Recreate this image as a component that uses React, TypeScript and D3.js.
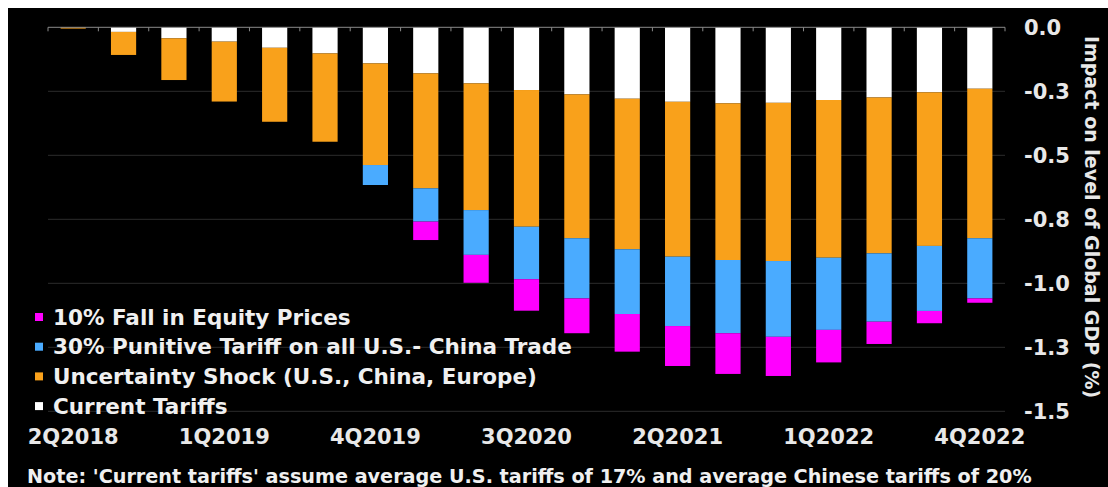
import React from "react";
import * as d3 from "d3";

const quarters = ["2Q2018","3Q2018","4Q2018","1Q2019","2Q2019","3Q2019","4Q2019","1Q2020","2Q2020","3Q2020","4Q2020","1Q2021","2Q2021","3Q2021","4Q2021","1Q2022","2Q2022","3Q2022","4Q2022"];
const tickQuarters = ["2Q2018","1Q2019","4Q2019","3Q2020","2Q2021","1Q2022","4Q2022"];
const currentTariffs = [0, -0.018, -0.043, -0.056, -0.080, -0.102, -0.141, -0.180, -0.219, -0.245, -0.262, -0.279, -0.291, -0.297, -0.295, -0.284, -0.274, -0.254, -0.240];
const uncertaintyShock = [-0.005, -0.090, -0.163, -0.234, -0.289, -0.345, -0.397, -0.449, -0.495, -0.534, -0.562, -0.588, -0.605, -0.612, -0.618, -0.616, -0.609, -0.600, -0.584];
const punitiveTariff = [0, 0, 0, 0, 0, 0, -0.078, -0.130, -0.175, -0.205, -0.235, -0.253, -0.271, -0.286, -0.296, -0.282, -0.267, -0.254, -0.235];
const equityFall = [0, 0, 0, 0, 0, 0, 0, -0.072, -0.109, -0.123, -0.136, -0.147, -0.156, -0.159, -0.153, -0.127, -0.087, -0.048, -0.017];
const yTicks = [0, -0.25, -0.5, -0.75, -1.0, -1.25, -1.5];
const yTickLabels = ["0.0", "-0.3", "-0.5", "-0.8", "-1.0", "-1.3", "-1.5"];

const seriesDefs = [
  { key: "current", label: "Current Tariffs", values: currentTariffs, color: "#ffffff" },
  { key: "uncert", label: "Uncertainty Shock (U.S., China, Europe)", values: uncertaintyShock, color: "#f9a11b" },
  { key: "punitive", label: "30% Punitive Tariff on all U.S.- China Trade", values: punitiveTariff, color: "#4aabff" },
  { key: "equity", label: "10% Fall in Equity Prices", values: equityFall, color: "#ff00ff" },
];
const legendOrder = ["equity", "punitive", "uncert", "current"];

const FONT = "'DejaVu Sans', Verdana, sans-serif";

export default function App() {
  const W = 1108, H = 487;
  const x = d3.scaleBand<string>().domain(quarters).range([48, 1005]).paddingInner(0.5).paddingOuter(0.25);
  const y = d3.scaleLinear().domain([0, -1.5]).range([27.3, 411.3]);
  const step = x.step();
  const x0 = 48;

  const rows = quarters.map((q, i) => {
    const r: any = { q };
    seriesDefs.forEach((s) => (r[s.key] = -s.values[i]));
    return r;
  });
  const stack = d3.stack<any>().keys(seriesDefs.map((s) => s.key));
  const stacked = stack(rows);

  return (
    <svg width={W} height={H} style={{ position: "absolute", left: 0, top: 0, display: "block" }} fontFamily={FONT}>
      <rect x={0} y={0} width={W} height={H} fill="#ffffff" />
      <rect x={8} y={8} width={W - 8} height={H - 8} fill="#000000" />
      {yTicks.slice(1).map((t) => (
        <line key={t} x1={48} x2={1005} y1={y(t)} y2={y(t)} stroke="#2c2c2c" strokeWidth={1} />
      ))}
      {stacked.map((layer, li) => (
        <g key={layer.key} fill={seriesDefs[li].color}>
          {layer.map((d, i) => {
            const top = y(-d[0]);
            const bot = y(-d[1]);
            const h = bot - top;
            if (h <= 0.01) return null;
            return <rect key={i} x={x(quarters[i])} width={x.bandwidth()} y={top} height={Math.max(h, 1)} />;
          })}
        </g>
      ))}
      <line x1={48} x2={1005} y1={y(0)} y2={y(0)} stroke="#8a8a8a" strokeWidth={1} />
      {d3.range(quarters.length + 1).map((i) => (
        <line key={i} x1={x0 + i * step} x2={x0 + i * step} y1={y(0)} y2={y(0) + 4} stroke="#8a8a8a" strokeWidth={1} />
      ))}
      {yTicks.map((t, i) => (
        <text key={t} x={1024} y={y(t)} dy="0.36em" fill="#e8e8e8" fontSize={21} fontWeight="bold">
          {yTickLabels[i]}
        </text>
      ))}
      <text transform={`translate(1092,217) rotate(90)`} textAnchor="middle" dy="0.36em" fill="#e8e8e8" fontSize={19} fontWeight="bold">
        Impact on level of Global GDP (%)
      </text>
      {tickQuarters.map((q) => (
        <text key={q} x={(x(q) as number) + x.bandwidth() / 2} y={436} dy="0.36em" textAnchor="middle" fill="#e8e8e8" fontSize={21} fontWeight="bold">
          {q}
        </text>
      ))}
      {legendOrder.map((k, i) => {
        const s = seriesDefs.find((d) => d.key === k)!;
        const cy = 317 + i * 29.7;
        return (
          <g key={k}>
            <rect x={35} y={cy - 4} width={8} height={8} fill={s.color} />
            <text x={53} y={cy} dy="0.36em" fill="#f0f0f0" fontSize={21.5} fontWeight="bold">{s.label}</text>
          </g>
        );
      })}
      <text x={27} y={476} dy="0.36em" fill="#f0f0f0" fontSize={19.2} fontWeight="bold">
        Note: 'Current tariffs' assume average U.S. tariffs of 17% and average Chinese tariffs of 20%
      </text>
    </svg>
  );
}
